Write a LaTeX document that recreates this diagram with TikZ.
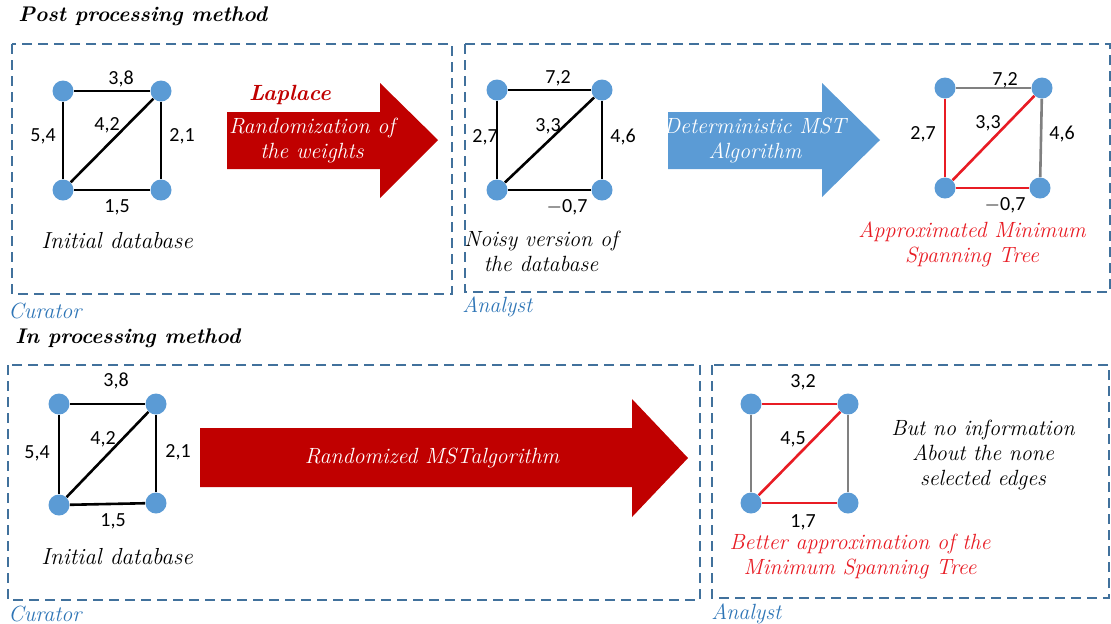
\documentclass[tikz,border=0pt]{standalone}
\usepackage{fontspec}
\newfontfamily\numfont{Carlito}
\usetikzlibrary{positioning}
\definecolor{boxblue}{RGB}{65,113,156}
\definecolor{roleblue}{RGB}{46,117,182}
\definecolor{vertblue}{RGB}{91,155,213}
\definecolor{arrowred}{RGB}{192,0,0}
\definecolor{treered}{RGB}{232,28,36}
\definecolor{restgray}{RGB}{128,128,128}

\begin{document}
\begin{tikzpicture}[x=0.5pt, y=-0.5pt,
  vert/.style={circle, fill=vertblue, inner sep=0pt, minimum size=10.5pt},
  edge/.style={line width=1.3pt, black},
  tree/.style={line width=1.3pt, treered},
  rest/.style={line width=1.3pt, restgray},
  wt/.style={font=\numfont\fontsize{10}{12}\selectfont, inner sep=0pt},
  txt/.style={font=\itshape\fontsize{11}{12.5}\selectfont, align=center, inner sep=0pt},
  dbox/.style={draw=boxblue, line width=1.2pt, dash pattern=on 5pt off 3pt},
  role/.style={font=\itshape\fontsize{11}{12}\selectfont, text=roleblue, anchor=west, inner sep=0pt},
  title/.style={font=\bfseries\itshape\fontsize{10.6}{12}\selectfont, anchor=west, inner sep=0pt}]
  \useasboundingbox (0,0) rectangle (1111,623);

  % top row: post processing
  \node[title] (post) at (18,16) {Post processing method};
  \draw[dbox] (12,44) rectangle (452,294);
  \draw[dbox] (465,44) rectangle (1110,292);
  \node[role] (cur1) at (8,311) {Curator};
  \node[role] (ana1) at (462,307) {Analyst};

  \node[vert] (a1) at (63,91) {};
  \node[vert] (a2) at (161,91) {};
  \node[vert] (a3) at (63,190) {};
  \node[vert] (a4) at (161,190) {};
  \draw[edge] (a1) -- (a2);
  \draw[edge] (a1) -- (a3);
  \draw[edge] (a2) -- (a3);
  \draw[edge] (a2) -- (a4);
  \draw[edge] (a3) -- (a4);
  \node[wt] (wa12) at (121,79) {3,8};
  \node[wt] (wa13) at (43,136) {5,4};
  \node[wt] (wa23) at (107,125) {4,2};
  \node[wt] (wa24) at (182,136) {2,1};
  \node[wt] (wa34) at (117,207) {1,5};
  \node[txt, font=\itshape\fontsize{11.6}{12.5}\selectfont] (init1) at (117,241) {Initial database};

  \fill[arrowred] (227,112) -- (380,112) -- (380,83) -- (438,140) -- (380,198) -- (380,169) -- (227,169) -- cycle;
  \node[txt, text=arrowred, font=\bfseries\itshape\fontsize{11}{12}\selectfont] (lap) at (290,95) {Laplace};
  \node[txt, text=white] (rnd) at (312,140) {Randomization of\\the weights};

  \node[vert] (b1) at (497,90) {};
  \node[vert] (b2) at (602,90) {};
  \node[vert] (b3) at (497,190) {};
  \node[vert] (b4) at (602,190) {};
  \draw[edge] (b1) -- (b2);
  \draw[edge] (b1) -- (b3);
  \draw[edge] (b2) -- (b3);
  \draw[edge] (b2) -- (b4);
  \draw[edge] (b3) -- (b4);
  \node[wt] (wb12) at (558,78) {7,2};
  \node[wt] (wb13) at (485,137) {2,7};
  \node[wt] (wb23) at (548,126) {3,3};
  \node[wt] (wb24) at (623,137) {4,6};
  \node[wt] (wb34) at (567,207) {$-$0,7};
  \node[txt] (noisy) at (541,251) {Noisy version of\\the database};

  \fill[vertblue] (668,112) -- (822,112) -- (822,83) -- (880,140) -- (822,197) -- (822,169) -- (668,169) -- cycle;
  \node[txt, text=white] (det) at (755,140) {Deterministic MST\\Algorithm};

  \node[vert] (c1) at (945,88) {};
  \node[vert] (c2) at (1042,88) {};
  \node[vert] (c3) at (945,188) {};
  \node[vert] (c4) at (1040,188) {};
  \draw[rest] (c1) -- (c2);
  \draw[tree] (c1) -- (c3);
  \draw[tree] (c2) -- (c3);
  \draw[rest] (c2) -- (c4);
  \draw[tree] (c3) -- (c4);
  \node[wt] (wc12) at (1005,80) {7,2};
  \node[wt] (wc13) at (923,134) {2,7};
  \node[wt] (wc23) at (988,123) {3,3};
  \node[wt] (wc24) at (1062,134) {4,6};
  \node[wt] (wc34) at (1005,205) {$-$0,7};
  \node[txt, text=treered] (apx) at (972,244) {Approximated Minimum\\Spanning Tree};

  % bottom row: in processing
  \node[title] (inproc) at (15,338) {In processing method};
  \draw[dbox] (8,365) rectangle (700,600);
  \draw[dbox] (712,365) rectangle (1109,598);
  \node[role] (cur2) at (8,614) {Curator};
  \node[role] (ana2) at (711,614) {Analyst};

  \node[vert] (d1) at (59,404) {};
  \node[vert] (d2) at (156,404) {};
  \node[vert] (d3) at (59,505) {};
  \node[vert] (d4) at (156,503) {};
  \draw[edge] (d1) -- (d2);
  \draw[edge] (d1) -- (d3);
  \draw[edge] (d2) -- (d3);
  \draw[edge] (d2) -- (d4);
  \draw[edge] (d3) -- (d4);
  \node[wt] (wd12) at (116,381) {3,8};
  \node[wt] (wd13) at (37,453) {5,4};
  \node[wt] (wd23) at (103,439) {4,2};
  \node[wt] (wd24) at (178,452) {2,1};
  \node[wt] (wd34) at (113,521) {1,5};
  \node[txt, font=\itshape\fontsize{11.6}{12.5}\selectfont] (init2) at (117,557) {Initial database};

  \fill[arrowred] (200,428) -- (632,428) -- (632,399) -- (688,458) -- (632,517) -- (632,487) -- (200,487) -- cycle;
  \node[txt, text=white] (rmst) at (432,458) {Randomized MSTalgorithm};

  \node[vert] (e1) at (751,404) {};
  \node[vert] (e2) at (848,404) {};
  \node[vert] (e3) at (751,503) {};
  \node[vert] (e4) at (848,503) {};
  \draw[tree] (e1) -- (e2);
  \draw[rest] (e1) -- (e3);
  \draw[tree] (e2) -- (e3);
  \draw[rest] (e2) -- (e4);
  \draw[tree] (e3) -- (e4);
  \node[wt] (we12) at (803,382) {3,2};
  \node[wt] (we23) at (793,439) {4,5};
  \node[wt] (we34) at (803,522) {1,7};
  \node[txt] (noinfo) at (983,455) {But no information\\About the none\\selected edges};
  \node[txt, text=treered] (better) at (860,556) {Better approximation of the\\Minimum Spanning Tree};
\end{tikzpicture}
\end{document}
